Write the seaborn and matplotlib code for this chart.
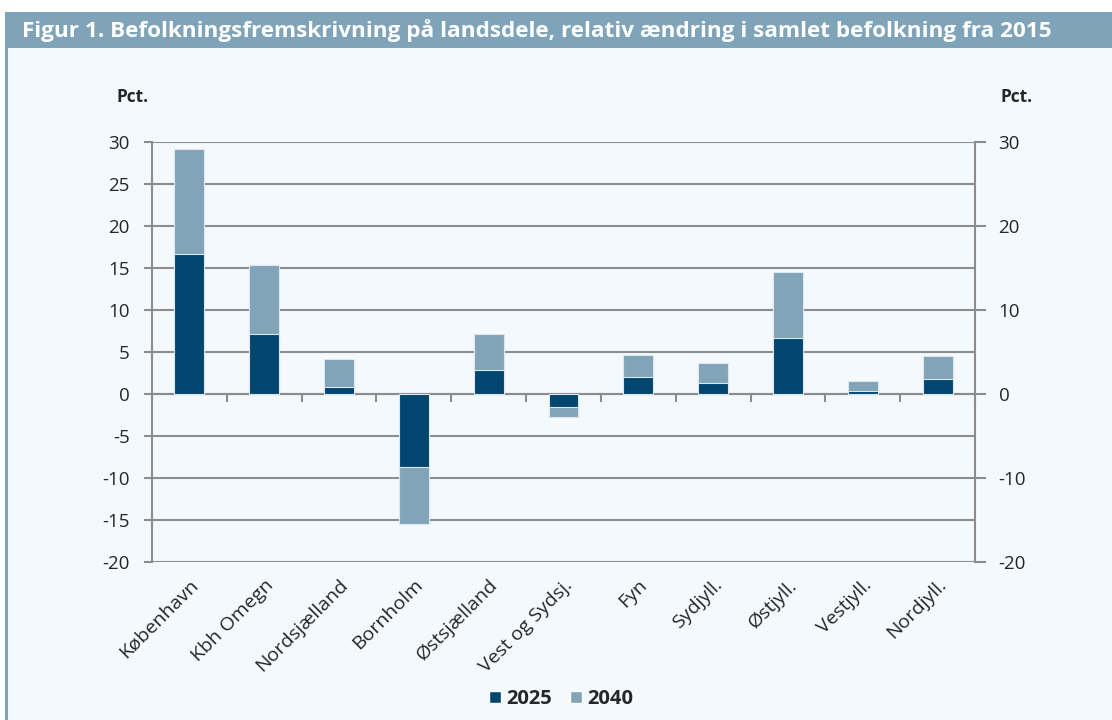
import matplotlib
matplotlib.use("Agg")
import matplotlib.pyplot as plt
import seaborn as sns
import pandas as pd
from matplotlib.patches import Rectangle, Patch

regions = ["København", "Kbh Omegn", "Nordsjælland", "Bornholm", "Østsjælland",
           "Vest og Sydsj.", "Fyn", "Sydjyll.", "Østjyll.", "Vestjyll.", "Nordjyll."]
v2025 = [16.7, 7.1, 0.8, -8.7, 2.9, -1.5, 2.0, 1.3, 6.7, 0.35, 1.8]
v2040 = [29.2, 15.3, 4.2, -15.5, 7.1, -2.7, 4.7, 3.7, 14.5, 1.6, 4.5]
series = ["2025", "2040"]

dark = "#00466e"
light = "#82a4b8"
bar_c = "#7fa3b8"
bg = "#f4f9fd"
grid_c = "#8c8c8c"

sns.set_theme(style="white")
plt.rcParams["font.family"] = ["Open Sans", "DejaVu Sans"]
plt.rcParams["axes.unicode_minus"] = False

df = pd.DataFrame({"region": regions, "2025": v2025, "2040": v2040})

fig = plt.figure(figsize=(11.12, 7.2), dpi=100, facecolor="white")
# panel background, title bar, left border
fig.patches.append(Rectangle((7 / 1112, 0), 1, 1 - 48 / 720, transform=fig.transFigure,
                             facecolor=bg, edgecolor="none", zorder=-10))
fig.patches.append(Rectangle((5 / 1112, 1 - 48 / 720), 1, 36 / 720, transform=fig.transFigure,
                             facecolor=bar_c, edgecolor="none", zorder=-10))
fig.patches.append(Rectangle((5 / 1112, 0), 3 / 1112, 1 - 12 / 720, transform=fig.transFigure,
                             facecolor=bar_c, edgecolor="none", zorder=-10))
fig.text(22 / 1112, 1 - 31 / 720, "Figur 1. Befolkningsfremskrivning på landsdele, relativ ændring i samlet befolkning fra 2015",
         color="white", fontsize=16.2, fontweight="bold", va="center", ha="left")

ax = fig.add_axes([152 / 1112, 1 - 562 / 720, 823 / 1112, 420 / 720])
ax.set_facecolor(bg)

sns.barplot(data=df, x="region", y="2040", color=light, width=0.4, ax=ax,
            edgecolor="#dbe6ee", linewidth=0.8, saturation=1, zorder=3)
sns.barplot(data=df, x="region", y="2025", color=dark, width=0.4, ax=ax,
            edgecolor="#dbe6ee", linewidth=0.8, saturation=1, zorder=4)

ax.set_ylim(-20, 30)
ax.set_xlim(-0.5, len(regions) - 0.5)
ax.set_yticks(range(-20, 31, 5))
ax.set_ylabel("")
ax.set_xlabel("")
ax.grid(axis="y", color=grid_c, linewidth=1.5, zorder=1)
ax.grid(axis="x", visible=False)
for s in ["top", "bottom"]:
    ax.spines[s].set_visible(False)
for s in ["left", "right"]:
    ax.spines[s].set_color(grid_c)
    ax.spines[s].set_linewidth(1.5)
ax.tick_params(axis="y", which="major", direction="out", length=6, width=1.5, color=grid_c,
               labelsize=13.5, pad=10, left=True)
ax.tick_params(axis="x", length=0, pad=10)
ax.set_xticks(range(len(regions)))
ax.set_xticklabels(regions, rotation=45, ha="right", rotation_mode="anchor", fontsize=14)
ax.axhline(0, color=grid_c, linewidth=1.5, zorder=2)

# tick marks between categories on the zero line
sec = ax.secondary_xaxis(20 / 50)
sec.set_xticks([i + 0.5 for i in range(len(regions))])
sec.set_xticklabels([])
sec.tick_params(direction="out", length=6, width=1.5, color=grid_c)
sec.spines["bottom"].set_visible(False)

ax2 = ax.twinx()
ax2.set_ylim(-20, 30)
ax2.set_yticks(range(-20, 31, 10))
ax2.tick_params(axis="y", direction="out", length=8, width=1.5, color=grid_c,
                labelsize=13.5, pad=9, right=True)
for s in ax2.spines.values():
    s.set_visible(False)
ax2.grid(False)

fig.text(117 / 1112, 1 - 97 / 720, "Pct.", fontsize=12.5, fontweight="bold", va="center", ha="left")
fig.text(1000 / 1112, 1 - 97 / 720, "Pct.", fontsize=12.5, fontweight="bold", va="center", ha="left")

handles = [Patch(facecolor=dark, label=series[0]), Patch(facecolor=light, label=series[1])]
fig.legend(handles=handles, loc="center", bbox_to_anchor=(561 / 1112, 1 - 699 / 720), ncol=2,
           frameon=False, handlelength=0.6, handleheight=0.6, handletextpad=0.25, columnspacing=0.9,
           prop={"weight": "bold", "size": 14.5})

fig.savefig("out.png", dpi=100, facecolor=fig.get_facecolor())
